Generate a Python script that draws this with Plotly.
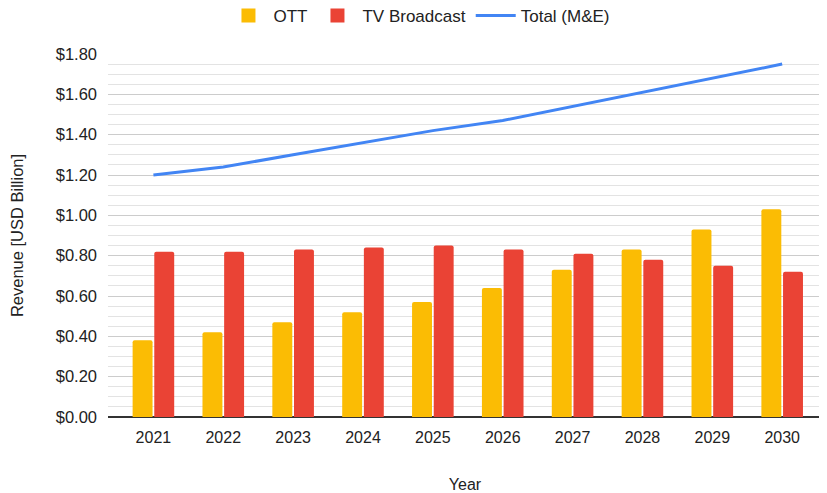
import plotly.graph_objects as go

years = ["2021", "2022", "2023", "2024", "2025", "2026", "2027", "2028", "2029", "2030"]
ott = [0.38, 0.42, 0.47, 0.52, 0.57, 0.64, 0.73, 0.83, 0.93, 1.03]
tv_broadcast = [0.82, 0.82, 0.83, 0.84, 0.85, 0.83, 0.81, 0.78, 0.75, 0.72]
total_me = [1.20, 1.24, 1.30, 1.36, 1.42, 1.47, 1.54, 1.61, 1.68, 1.75]

font = "Liberation Sans, Arial, sans-serif"
txt = "#222222"
c_ott, c_tv, c_tot = "#fbbc04", "#ea4335", "#4285f4"

# page has an 8px body margin; size the figure so it fits the 827x493 window
W, H = 819, 485

fig = go.Figure()
fig.add_trace(go.Bar(x=years, y=ott, name="OTT", showlegend=False,
                     marker=dict(color=c_ott, line=dict(width=0), cornerradius=2)))
fig.add_trace(go.Bar(x=years, y=tv_broadcast, name="TV Broadcast", showlegend=False,
                     marker=dict(color=c_tv, line=dict(width=0), cornerradius=2)))
fig.add_trace(go.Scatter(x=years, y=total_me, name="Total (M&E)", mode="lines", showlegend=False,
                         line=dict(color=c_tot, width=3)))

# legend entries
fig.add_trace(go.Scatter(x=[None], y=[None], name="OTT", mode="markers",
                         marker=dict(symbol="square", size=14, color=c_ott)))
fig.add_trace(go.Scatter(x=[None], y=[None], name="TV Broadcast", mode="markers",
                         marker=dict(symbol="square", size=14, color=c_tv)))
fig.add_trace(go.Scatter(x=[None], y=[None], name="Total (M&E)", mode="lines",
                         line=dict(color=c_tot, width=3)))

fig.update_layout(
    width=W, height=H,
    margin=dict(l=100, r=5, t=46, b=76),
    paper_bgcolor="white", plot_bgcolor="white",
    font=dict(family=font, size=16, color=txt),
    barmode="group", bargap=0.38, bargroupgap=0.08,
    legend=dict(orientation="h", xref="container", x=0.5024, xanchor="center",
                yref="container", y=1 - 8 / H, yanchor="middle",
                font=dict(size=17, color=txt), itemwidth=40, traceorder="normal"),
    showlegend=True,
)

fig.update_xaxes(
    type="category", range=[-0.65, 9.57], automargin=False,
    showgrid=False, showline=False, zeroline=False,
    ticks="", ticklabelstandoff=9, tickfont=dict(size=16, color=txt),
    title=dict(text="Year", font=dict(size=16, color=txt), standoff=36),
)
fig.update_yaxes(
    range=[0, 1.8], dtick=0.2, tickformat="$.2f", automargin=False,
    showgrid=True, gridcolor="#cccccc", gridwidth=1,
    minor=dict(dtick=0.05, showgrid=True, gridcolor="#e3e3e3", gridwidth=1),
    zeroline=True, zerolinecolor="#333333", zerolinewidth=1.5,
    showline=False, ticks="", ticklabelstandoff=10,
    tickfont=dict(size=16.5, color=txt),
    title=dict(text="Revenue [USD Billion]", font=dict(size=16.5, color=txt), standoff=28),
)

fig.write_html("out.html")
